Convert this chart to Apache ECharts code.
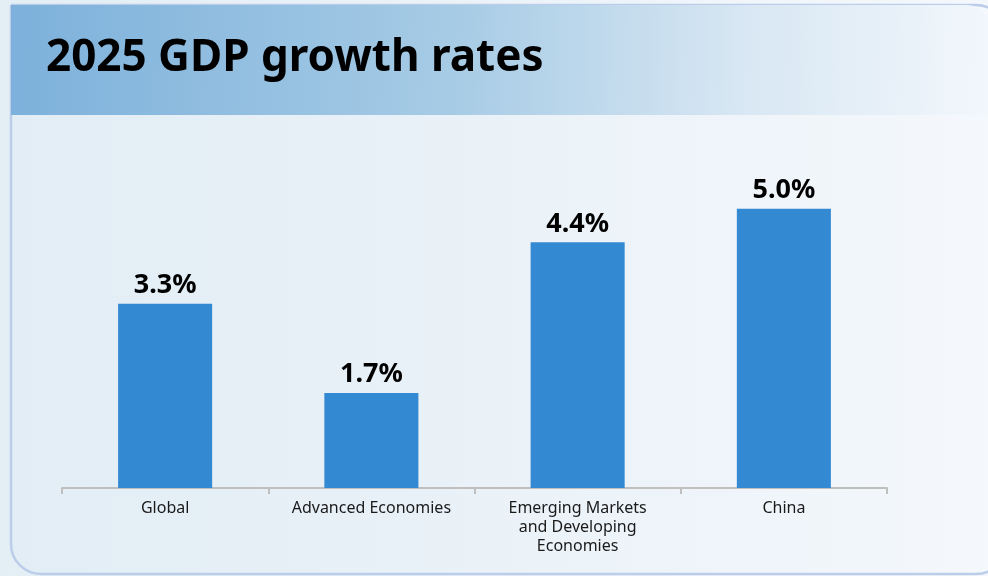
<!DOCTYPE html>
<html>
<head>
<meta charset="utf-8">
<script src="https://cdn.jsdelivr.net/npm/echarts@6/dist/echarts.min.js"></script>
<style>
  html, body { margin: 0; padding: 0; background: #eaf2f8; }
  #chart { width: 988px; height: 576px; }
</style>
</head>
<body>
<div id="chart"></div>
<script>
// 2025 GDP growth rates by economy group (%)
const titleText = '2025 GDP growth rates';
const categories = ['Global', 'Advanced Economies', 'Emerging Markets\nand Developing\nEconomies', 'China'];
const growth = [3.3, 1.7, 4.4, 5.0];

const chart = echarts.init(document.getElementById('chart'));

chart.setOption({
  backgroundColor: {
    type: 'linear', x: 0, y: 0, x2: 1, y2: 0,
    colorStops: [
      { offset: 0, color: '#e3eef5' },
      { offset: 1, color: '#f4f8fc' }
    ]
  },
  graphic: [
    {
      // card outline
      type: 'rect', z: -10, silent: true,
      shape: { x: 11, y: 5, width: 995, height: 569, r: [0, 30, 30, 30] },
      style: {
        fill: {
          type: 'linear', x: 0, y: 0, x2: 1, y2: 0,
          colorStops: [
            { offset: 0, color: '#e2edf5' },
            { offset: 0.6, color: '#ecf3f9' },
            { offset: 1, color: '#f5f8fc' }
          ]
        },
        stroke: '#bccdea', lineWidth: 2.5
      }
    },
    {
      // header band
      type: 'rect', z: -9, silent: true,
      shape: { x: 11, y: 5, width: 980, height: 110, r: [0, 24, 0, 0] },
      style: {
        fill: {
          type: 'linear', x: 0, y: 0, x2: 1, y2: 0.3,
          colorStops: [
            { offset: 0, color: '#7db1db' },
            { offset: 0.45, color: '#a6cbe5' },
            { offset: 0.75, color: '#d8e7f3' },
            { offset: 1, color: '#f2f7fc' }
          ]
        }
      }
    }
  ],
  title: {
    text: titleText,
    left: 41,
    top: 31,
    textStyle: {
      fontFamily: 'Noto Sans',
      fontWeight: 'bold',
      fontSize: 44,
      color: '#000'
    }
  },
  grid: { left: 62, right: 101, top: 153, bottom: 88 },
  xAxis: {
    type: 'category',
    data: categories,
    axisLine: { lineStyle: { color: '#bfbfbf', width: 2 } },
    axisTick: { show: true, length: 6, lineStyle: { color: '#bfbfbf', width: 2 } },
    axisLabel: {
      interval: 0,
      margin: 11,
      fontFamily: 'Noto Sans',
      fontSize: 16,
      lineHeight: 19,
      color: '#1a1a1a'
    }
  },
  yAxis: {
    type: 'value',
    min: 0, max: 6,
    show: false,
    splitLine: { show: false }
  },
  series: [{
    type: 'bar',
    data: growth,
    barWidth: '45.6%',
    itemStyle: { color: '#3489d3' },
    label: {
      show: true,
      position: 'top',
      distance: 5,
      formatter: p => p.value.toFixed(1) + '%',
      fontFamily: 'Noto Sans',
      fontWeight: 'bold',
      fontSize: 27,
      color: '#000'
    }
  }]
});
</script>
</body>
</html>
